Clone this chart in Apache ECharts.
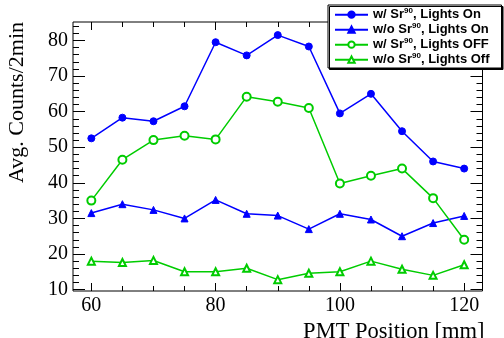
<!DOCTYPE html>
<html>
<head>
<meta charset="utf-8">
<script src="https://cdn.jsdelivr.net/npm/echarts@6/dist/echarts.min.js"></script>
<style>
  html, body { margin: 0; padding: 0; background: #fff; }
  #chart { width: 504px; height: 338px; }
</style>
</head>
<body>
<div id="chart"></div>
<script>
// PMT positions [mm]
const positions = [60, 65, 70, 75, 80, 85, 90, 95, 100, 105, 110, 115, 120];
// average counts / 2 min
const srLightsOn   = [52.5, 58.3, 57.3, 61.5, 79.5, 75.8, 81.5, 78.3, 59.5, 65.0, 54.5, 46.0, 44.0];
const noSrLightsOn = [31.5, 34.0, 32.4, 30.0, 35.2, 31.3, 30.8, 27.0, 31.3, 29.7, 25.0, 28.7, 30.7];
const srLightsOff  = [35.0, 46.5, 52.0, 53.2, 52.2, 64.2, 62.8, 61.0, 39.8, 42.0, 44.0, 35.7, 24.0];
const noSrLightsOff = [18.0, 17.6, 18.2, 15.0, 15.0, 16.0, 12.8, 14.6, 15.0, 18.0, 15.7, 14.0, 17.0];

const xMajor = [60, 80, 100, 120];
const xMinor = [65, 70, 75, 85, 90, 95, 105, 110, 115];
const yMajor = [10, 20, 30, 40, 50, 60, 70, 80];
const yMinor = [12, 14, 16, 18, 22, 24, 26, 28, 32, 34, 36, 38, 42, 44, 46, 48,
                52, 54, 56, 58, 62, 64, 66, 68, 72, 74, 76, 78, 82, 84];

const X_MIN = 57.05, X_MAX = 122.95;
const Y_MIN = 9.61, Y_MAX = 85.18;

const pairs = (ys) => positions.map((x, i) => [x, ys[i]]);

const BLUE = '#0000ff';
const GREEN = '#00cc00';
const serif = 'Liberation Serif';

function xAxisOf(pos, ticks, len, withLabels) {
  return {
    type: 'value', position: pos, min: X_MIN, max: X_MAX,
    axisLine: { show: false },
    splitLine: { show: false },
    axisTick: { show: true, inside: true, length: len, customValues: ticks,
                lineStyle: { color: '#000', width: 1 } },
    axisLabel: withLabels
      ? { show: true, customValues: ticks, margin: 5, color: '#000',
          fontFamily: serif, fontSize: 20 }
      : { show: false }
  };
}
function yAxisOf(pos, ticks, len, withLabels) {
  return {
    type: 'value', position: pos, min: Y_MIN, max: Y_MAX,
    axisLine: { show: false },
    splitLine: { show: false },
    axisTick: { show: true, inside: true, length: len, customValues: ticks,
                lineStyle: { color: '#000', width: 1 } },
    axisLabel: withLabels
      ? { show: true, customValues: ticks, margin: 5, color: '#000',
          fontFamily: serif, fontSize: 20 }
      : { show: false }
  };
}

const xMain = xAxisOf('bottom', xMajor, 8, true);
xMain.name = 'PMT Position [mm]';
xMain.nameLocation = 'middle';
xMain.nameGap = 19;
xMain.nameTextStyle = { fontFamily: serif, fontSize: 22.5, color: '#000',
                        verticalAlign: 'top', padding: [0, 0, 0, 232] };

const yMain = yAxisOf('left', yMajor, 12, true);
yMain.name = 'Avg. Counts/2min';
yMain.nameLocation = 'end';
yMain.nameRotate = 90;
yMain.nameGap = 0;
yMain.nameTextStyle = { fontFamily: serif, fontSize: 22, color: '#000',
                        align: 'right', verticalAlign: 'bottom', padding: [0, 0, 45, 0] };

function lineSeries(name, ys, color, symbol, size) {
  return {
    name: name, type: 'line', data: pairs(ys),
    symbol: symbol, symbolSize: size,
    lineStyle: { color: color, width: 1.5 },
    itemStyle: { color: color, borderColor: color, borderWidth: 1 },
    emphasis: { disabled: true }
  };
}

const chart = echarts.init(document.getElementById('chart'));
chart.setOption({
  animation: false,
  grid: { left: 73, right: 21.5, top: 22, bottom: 47, containLabel: false,
          outerBoundsMode: 'none',
          show: true, borderColor: '#000', borderWidth: 1, backgroundColor: 'transparent' },
  xAxis: [
    xMain,
    xAxisOf('bottom', xMinor, 5, false),
    xAxisOf('top', xMajor, 8, false),
    xAxisOf('top', xMinor, 5, false)
  ],
  yAxis: [
    yMain,
    yAxisOf('left', yMinor, 6, false),
    yAxisOf('right', yMajor, 12, false),
    yAxisOf('right', yMinor, 6, false)
  ],
  legend: {
    orient: 'vertical', left: 328, top: 5,
    padding: [2, 12, 1, 6],
    itemWidth: 33, itemHeight: 8, itemGap: 0,
    backgroundColor: '#fff', borderColor: '#000', borderWidth: 1,
    shadowColor: '#000', shadowOffsetX: 1.5, shadowOffsetY: 1.5, shadowBlur: 0,
    textStyle: {
      fontFamily: 'Liberation Sans', fontWeight: 'bold', fontSize: 13, color: '#000',
      lineHeight: 14.7,
      rich: {
        sup: { fontFamily: 'Liberation Sans', fontWeight: 'bold', fontSize: 8,
               color: '#000', lineHeight: 7, padding: [0, 0, 7, 0], verticalAlign: 'bottom' }
      }
    },
    formatter: (name) => name.replace('Sr90', 'Sr{sup|90}')
  },
  series: [
    lineSeries('w/ Sr90, Lights On', srLightsOn, BLUE, 'circle', 7),
    lineSeries('w/o Sr90, Lights On', noSrLightsOn, BLUE, 'triangle', 7),
    lineSeries('w/ Sr90, Lights OFF', srLightsOff, GREEN, 'emptyCircle', 8),
    lineSeries('w/o Sr90, Lights Off', noSrLightsOff, GREEN, 'emptyTriangle', 7)
  ]
});
</script>
</body>
</html>
